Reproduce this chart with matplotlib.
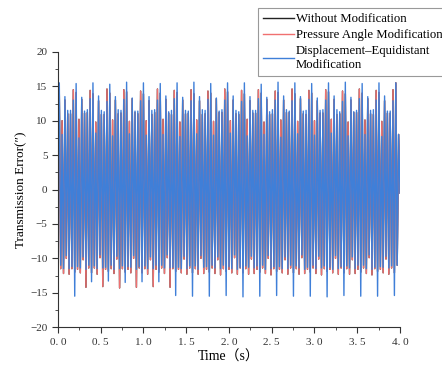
import matplotlib

matplotlib.use("Agg")
import matplotlib.pyplot as plt
import numpy as np
from matplotlib.ticker import MultipleLocator

# transmission error extremes ("), one row per mesh period (~0.2 s), peak/trough alternating
displacement_rows = [
    [15.5, -11.0, 8.0, -11.5, 13.5, -9.6, 11.5, -11.5, 11.5, -11.2, 13.0, -15.5],
    [15.4, -11.2, 7.5, -11.4, 13.4, -9.8, 11.4, -11.6, 11.6, -11.0, 13.2, -13.4],
    [15.5, -11.1, 8.2, -11.5, 13.6, -9.5, 11.5, -11.4, 11.3, -11.3, 12.8, -13.3],
    [15.3, -11.0, 7.8, -11.6, 13.5, -9.7, 11.6, -11.5, 11.5, -11.1, 13.1, -13.5],
    [15.6, -11.2, 8.1, -11.3, 13.3, -9.6, 11.4, -11.6, 11.4, -11.2, 12.9, -13.4],
    [15.5, -11.1, 7.9, -11.5, 13.5, -9.8, 11.5, -11.5, 11.6, -11.0, 13.0, -13.4],
    [15.4, -11.0, 8.0, -11.4, 13.6, -9.5, 11.3, -11.4, 11.5, -11.3, 13.2, -15.4],
    [15.5, -11.3, 7.7, -11.5, 13.4, -9.7, 11.5, -11.5, 11.4, -11.1, 12.9, -15.5],
    [15.6, -11.1, 8.1, -11.6, 13.5, -9.6, 11.6, -11.3, 11.5, -11.2, 13.1, -15.5],
    [15.4, -11.0, 7.9, -11.4, 13.3, -9.8, 11.4, -11.5, 11.6, -11.0, 13.0, -15.4],
    [15.5, -11.2, 8.2, -11.5, 13.6, -9.5, 11.5, -11.6, 11.3, -11.3, 12.8, -15.6],
    [15.5, -11.1, 7.8, -11.3, 13.5, -9.7, 11.5, -11.4, 11.5, -11.1, 13.2, -15.5],
    [15.3, -11.0, 8.0, -11.6, 13.4, -9.6, 11.3, -11.5, 11.6, -11.2, 13.0, -15.4],
    [15.6, -11.2, 7.6, -11.5, 13.6, -9.8, 11.6, -11.5, 11.4, -11.0, 12.9, -15.5],
    [15.5, -11.1, 8.1, -11.4, 13.5, -9.5, 11.4, -11.6, 11.5, -11.3, 13.1, -15.5],
    [15.4, -11.0, 7.9, -11.5, 13.3, -9.7, 11.5, -11.4, 11.6, -11.1, 13.0, -15.6],
    [15.5, -11.3, 8.2, -11.6, 13.6, -9.6, 11.6, -11.5, 11.3, -11.2, 12.8, -15.4],
    [15.6, -11.1, 7.8, -11.4, 13.4, -9.8, 11.3, -11.5, 11.5, -11.0, 13.2, -15.5],
    [15.4, -11.0, 8.0, -11.5, 13.5, -9.5, 11.5, -11.6, 11.6, -11.3, 13.0, -15.5],
    [15.5, -11.2, 7.7, -11.3, 13.6, -9.7, 11.4, -11.4, 11.4, -11.1, 12.9, -15.4],
]
pressure_rows = [
    [14.0, -11.5, 10.0, -12.2, 13.0, -10.0, 11.0, -12.3, 11.0, -11.5, 14.5, -12.0],
    [14.1, -11.6, 10.2, -12.1, 13.1, -10.2, 11.1, -14.2, 11.2, -11.4, 14.4, -12.1],
    [13.9, -11.4, 9.8, -12.3, 12.9, -9.9, 10.9, -14.1, 10.9, -11.6, 14.6, -11.9],
    [14.0, -11.5, 10.1, -12.2, 13.0, -10.1, 11.0, -14.3, 11.1, -11.5, 14.5, -12.0],
    [14.2, -11.6, 9.9, -12.1, 13.2, -10.0, 11.2, -14.2, 11.0, -11.4, 14.3, -12.1],
    [13.9, -11.5, 10.0, -12.3, 12.9, -10.2, 10.9, -14.1, 11.2, -11.6, 14.6, -12.0],
    [14.0, -11.4, 10.2, -12.2, 13.1, -9.9, 11.1, -14.2, 10.9, -11.5, 14.4, -11.9],
    [14.1, -11.6, 9.8, -12.1, 13.0, -10.1, 11.0, -12.3, 11.1, -11.4, 14.5, -12.1],
    [13.9, -11.5, 10.1, -12.3, 12.9, -10.0, 10.9, -12.2, 11.0, -11.6, 14.3, -12.0],
    [14.0, -11.4, 9.9, -12.2, 13.2, -10.2, 11.2, -12.4, 11.2, -11.5, 14.6, -11.9],
    [14.2, -11.6, 10.0, -12.1, 13.0, -9.9, 11.0, -12.3, 10.9, -11.4, 14.4, -12.1],
    [13.9, -11.5, 10.2, -12.3, 12.9, -10.1, 11.1, -12.2, 11.1, -11.6, 14.5, -12.0],
    [14.0, -11.4, 9.8, -12.2, 13.1, -10.0, 10.9, -12.4, 11.0, -11.5, 14.3, -11.9],
    [14.1, -11.6, 10.1, -12.1, 13.0, -10.2, 11.2, -12.3, 11.2, -11.4, 14.6, -12.1],
    [13.9, -11.5, 9.9, -12.3, 13.2, -9.9, 11.0, -12.2, 10.9, -11.6, 14.4, -12.0],
    [14.0, -11.4, 10.0, -12.2, 12.9, -10.1, 11.1, -12.4, 11.1, -11.5, 14.5, -11.9],
    [14.2, -11.6, 10.2, -12.1, 13.1, -10.0, 10.9, -12.3, 11.0, -11.4, 14.3, -12.1],
    [13.9, -11.5, 9.8, -12.3, 13.0, -10.2, 11.2, -12.2, 11.2, -11.6, 14.6, -12.0],
    [14.0, -11.4, 10.1, -12.2, 13.2, -9.9, 11.0, -12.4, 10.9, -11.5, 14.4, -11.9],
    [14.1, -11.6, 9.9, -12.1, 12.9, -10.1, 11.1, -12.3, 11.1, -11.4, 14.5, -12.1],
]
start_value = 0.0
end_tail = [15.5, -11.0, 8.0, -0.5]
t_end = 4.0

blue_te = [start_value] + [v for row in displacement_rows for v in row] + end_tail
red_te = [start_value] + [v for row in pressure_rows for v in row] + end_tail
# unmodified curve sits underneath the pressure-angle one and is hidden by it
black_te = red_te

t = np.linspace(0, t_end, len(blue_te))

serif = ["Liberation Serif", "Noto Sans CJK SC", "DejaVu Sans"]
plt.rcParams["font.family"] = serif

fig = plt.figure(figsize=(4.42, 3.68), dpi=100)
ax = fig.add_axes([0.131, 0.111, 0.774, 0.748])

ax.plot(t, black_te, color="#222222", lw=1.0, label="Without Modification")
ax.plot(t, red_te, color="#f07070", lw=1.0, label="Pressure Angle Modification")
ax.plot(t, blue_te, color="#3f7fd8", lw=1.0, label="Displacement\u2013Equidistant\nModification")

ax.set_xlim(0, 4.0)
ax.set_ylim(-20, 20)
ax.xaxis.set_major_locator(MultipleLocator(0.5))
ax.xaxis.set_minor_locator(MultipleLocator(0.25))
ax.yaxis.set_major_locator(MultipleLocator(5))
ax.yaxis.set_minor_locator(MultipleLocator(2.5))
ax.set_xticklabels([f"{v:.1f}".replace(".", ". ") for v in np.arange(-0.5, 4.51, 0.5)])
ax.tick_params(which="both", direction="out", color="#333333", labelsize=8, labelcolor="#333333")
ax.tick_params(which="major", length=4)
ax.tick_params(which="minor", length=2)
for s in ("top", "right"):
    ax.spines[s].set_visible(False)
for s in ("left", "bottom"):
    ax.spines[s].set_color("#333333")
    ax.spines[s].set_linewidth(0.8)

ax.set_xlabel("Time\uff08s\uff09", fontsize=10, labelpad=3)
ax.set_ylabel("Transmission Error(\u2033)", fontsize=9.5, labelpad=2)

leg = ax.legend(loc="upper left", bbox_to_anchor=(258 / 442, 1 - 8 / 368),
                bbox_transform=fig.transFigure, fontsize=9.2, frameon=True,
                fancybox=False, framealpha=1, edgecolor="#999999",
                handlelength=2.4, handletextpad=0.15, labelspacing=0.32,
                borderaxespad=0, borderpad=0.4)
leg.get_frame().set_linewidth(0.8)

fig.savefig("out.png", dpi=100)
